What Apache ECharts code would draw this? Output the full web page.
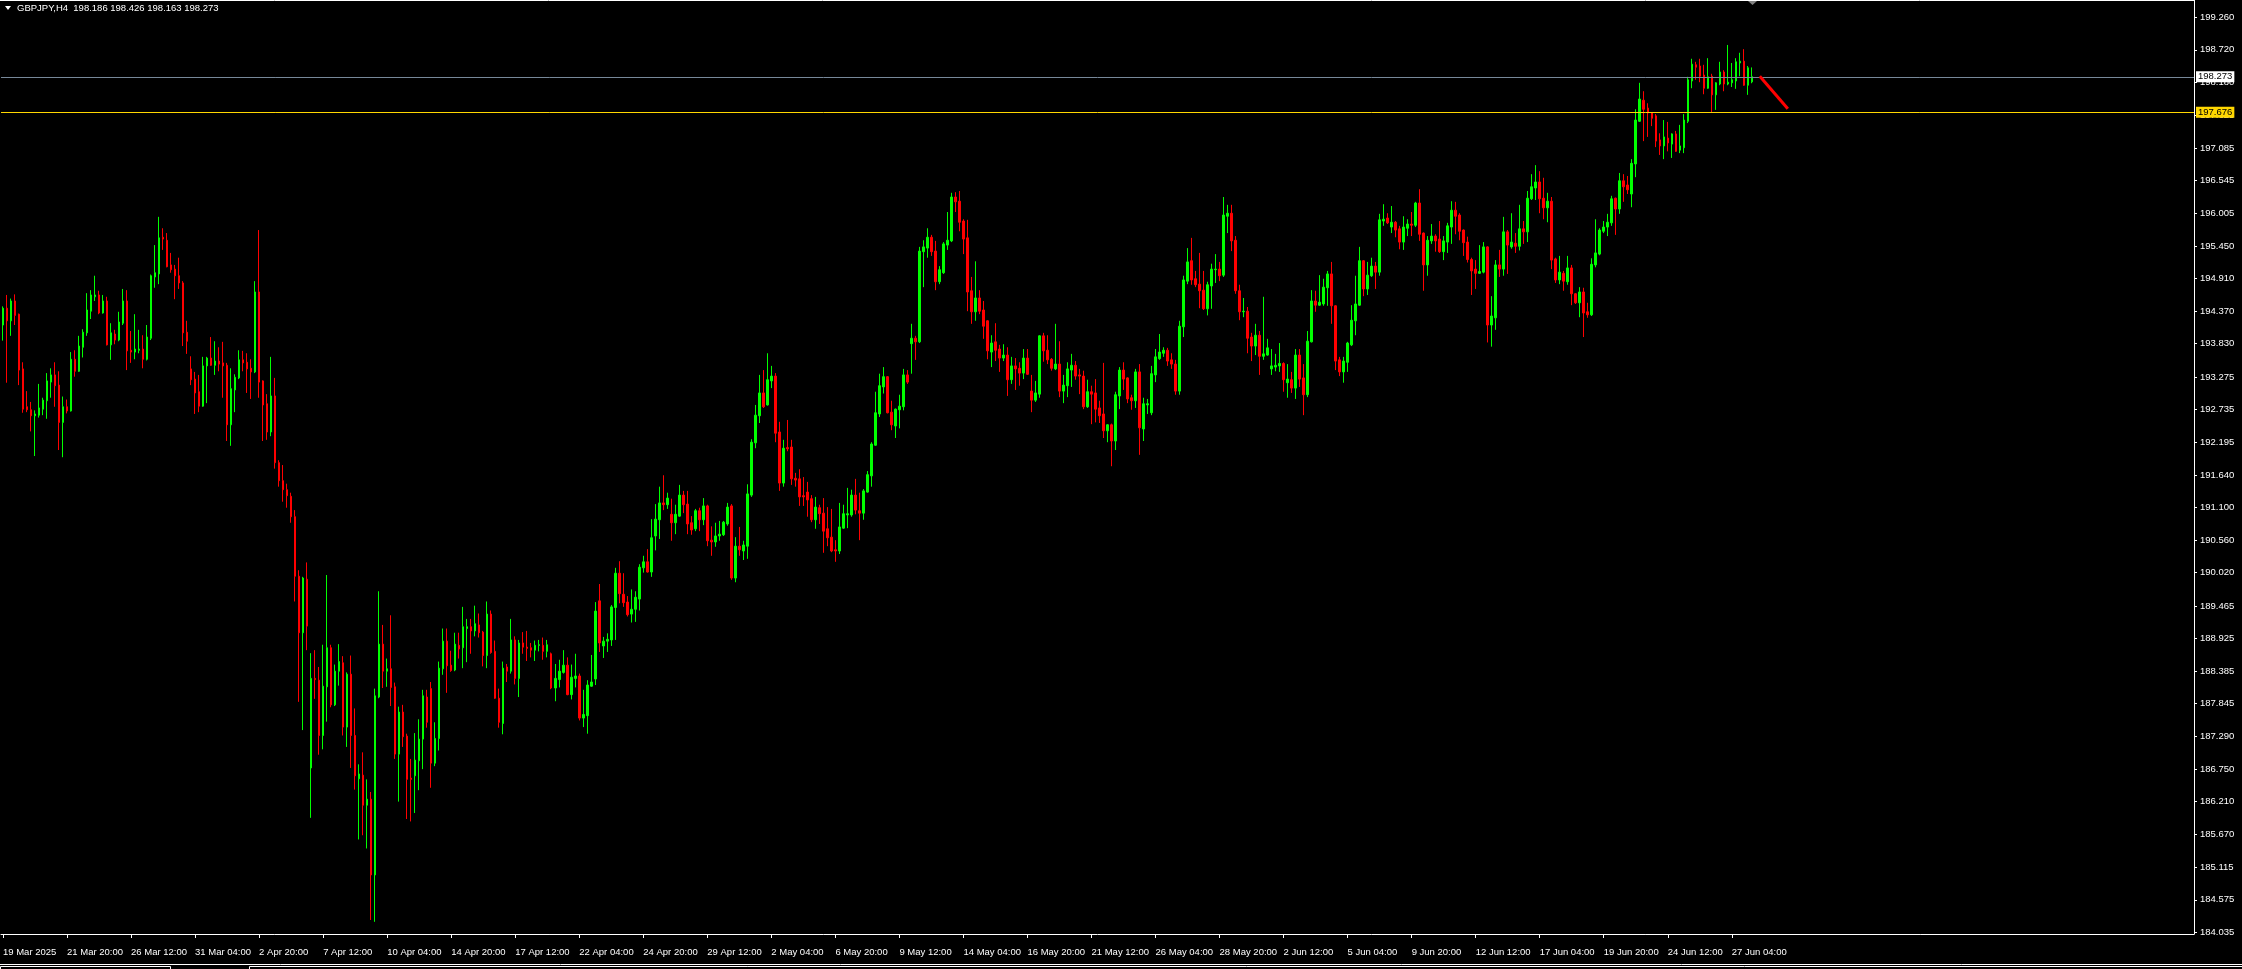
<!DOCTYPE html>
<html><head><meta charset="utf-8">
<script src="https://cdn.jsdelivr.net/npm/echarts@6/dist/echarts.min.js"></script>
<style>html,body{margin:0;padding:0;background:#000;overflow:hidden}#c{width:2242px;height:969px}</style>
</head><body><div id="c"></div>
<script>
const symbolTitle = 'GBPJPY,H4  198.186 198.426 198.163 198.273';
const xTickLabels = ['19 Mar 2025','21 Mar 20:00','26 Mar 12:00','31 Mar 04:00','2 Apr 20:00','7 Apr 12:00','10 Apr 04:00','14 Apr 20:00','17 Apr 12:00','22 Apr 04:00','24 Apr 20:00','29 Apr 12:00','2 May 04:00','6 May 20:00','9 May 12:00','14 May 04:00','16 May 20:00','21 May 12:00','26 May 04:00','28 May 20:00','2 Jun 12:00','5 Jun 04:00','9 Jun 20:00','12 Jun 12:00','17 Jun 04:00','19 Jun 20:00','24 Jun 12:00','27 Jun 04:00'];
const yTickLabels = ['184.035','184.575','185.115','185.670','186.210','186.750','187.290','187.845','188.385','188.925','189.465','190.020','190.560','191.100','191.640','192.195','192.735','193.275','193.830','194.370','194.910','195.450','196.005','196.545','197.085','197.625','198.180','198.720','199.260'];
const bidPrice = 198.273;
const levelPrice = 197.676;
const arrowLine = [[439, 198.28], [446, 197.74]];

const open = [
194.14,194.42,194.21,194.54,194.32,193.41,192.78,192.73,192.63,192.64,
192.74,192.88,193.19,193.31,193.14,192.52,192.78,192.71,193.57,193.37,
193.77,194.01,194.37,194.61,194.64,194.34,194.54,193.81,193.99,193.89,
194.17,194.54,193.72,193.69,193.72,193.74,193.57,193.92,194.94,194.99,
195.60,195.55,195.14,195.07,194.96,194.84,194.02,193.41,193.24,193.03,
192.79,193.46,193.59,193.47,193.54,193.51,193.47,192.48,193.06,193.26,
193.56,193.52,193.42,193.36,194.69,193.21,192.83,192.36,192.96,191.85,
191.55,191.40,191.29,190.95,189.96,189.02,189.91,186.77,188.26,188.23,
187.31,188.12,188.77,187.82,188.38,188.52,187.45,188.33,187.31,186.59,
186.65,186.15,186.25,184.99,187.95,188.83,188.38,188.42,188.12,187.00,
187.70,187.30,186.60,186.64,186.89,187.25,187.95,188.09,186.85,187.26,
188.42,188.88,188.48,188.40,188.81,188.77,189.09,189.12,189.05,189.15,
189.03,188.64,189.33,188.71,187.93,187.51,188.45,188.38,188.90,188.26,
188.85,188.78,188.77,188.73,188.81,188.81,188.71,188.67,188.10,188.24,
188.36,188.48,187.99,188.26,188.30,187.60,187.64,188.13,188.25,189.55,
188.80,188.88,188.90,189.44,190.01,189.66,189.53,189.33,189.41,189.58,
190.10,190.20,190.03,190.63,190.90,191.18,191.15,190.99,190.85,190.96,
191.31,191.16,190.85,190.75,191.05,190.90,191.13,190.56,190.53,190.63,
190.65,190.83,191.13,189.93,190.46,190.38,190.46,191.31,192.18,192.63,
193.01,192.81,193.21,193.29,192.36,191.51,192.10,192.11,191.59,191.58,
191.30,191.36,191.25,190.90,191.10,191.01,190.75,190.61,190.40,190.38,
190.76,190.98,190.98,191.31,191.05,191.01,191.36,191.63,192.14,192.66,
193.11,193.28,192.69,192.46,192.73,192.78,193.31,193.83,193.92,193.86,
195.36,195.42,195.60,195.37,194.86,195.01,195.47,195.54,196.27,196.20,
195.87,195.59,194.71,194.36,194.59,194.39,194.21,193.69,193.86,193.74,
193.59,193.64,193.23,193.46,193.42,193.34,193.59,193.04,192.89,192.99,
193.96,193.72,193.57,193.41,193.49,193.04,193.13,193.39,193.47,193.31,
193.29,192.78,193.03,193.01,192.76,192.66,192.38,192.48,192.21,192.96,
193.39,193.26,192.93,192.88,193.36,192.41,192.81,192.68,193.31,193.58,
193.67,193.72,193.56,193.49,193.04,194.11,194.87,195.21,194.91,194.82,
194.72,194.41,194.79,195.06,195.07,194.97,195.95,196.00,195.55,194.71,
194.36,194.37,193.94,193.79,193.97,193.62,193.64,193.41,193.44,193.46,
193.50,193.18,193.23,193.09,193.64,193.26,192.98,193.86,194.54,194.47,
194.49,194.76,194.99,194.46,193.56,193.36,193.52,193.81,194.21,194.47,
195.21,194.74,194.96,195.12,195.02,195.87,195.92,195.77,195.85,195.74,
195.52,195.75,195.82,195.80,196.17,195.67,195.14,195.54,195.62,195.57,
195.36,195.52,195.77,196.05,195.97,195.72,195.52,195.23,195.07,195.00,
195.02,195.44,194.14,194.26,195.14,195.07,195.69,195.44,195.50,195.45,
195.74,195.69,196.24,196.42,196.52,196.25,196.09,196.20,195.24,194.89,
195.00,194.86,195.09,194.66,194.51,194.69,194.36,194.31,195.14,195.32,
195.70,195.77,195.84,196.25,196.07,196.54,196.47,196.32,196.82,197.53,
197.88,197.75,197.67,197.62,197.22,197.12,197.25,197.15,197.32,197.05,
197.09,197.53,198.20,198.47,198.45,198.30,198.08,198.28,197.97,198.15,
198.35,198.15,198.17,198.20,198.50,198.53,198.13,198.186];

const high = [
194.45,194.64,194.58,194.65,194.33,193.52,193.04,192.86,192.72,193.16,
192.93,193.34,193.42,193.52,193.37,192.95,192.90,193.69,193.72,193.96,
194.07,194.67,194.72,194.96,194.71,194.64,194.61,194.17,194.06,194.36,
194.74,194.72,194.04,194.32,194.06,193.97,194.14,194.98,195.47,195.94,
195.75,195.67,195.34,195.14,195.26,194.87,194.21,193.62,193.36,193.31,
193.61,193.61,193.94,193.87,193.77,193.86,193.51,193.42,193.32,193.72,
193.71,193.67,193.57,194.87,195.72,193.22,192.99,193.61,193.26,191.89,
191.81,191.50,191.35,191.06,190.06,189.95,190.19,188.68,188.73,188.45,
188.82,189.98,188.82,188.49,188.83,188.63,188.36,188.64,187.76,186.83,
187.03,186.58,186.37,188.09,189.71,189.15,188.59,189.31,188.19,187.79,
187.82,187.34,186.92,187.35,187.58,188.07,188.07,188.20,187.53,188.54,
189.09,189.09,188.72,189.02,189.02,189.45,189.25,189.25,189.47,189.34,
189.05,189.54,189.39,188.89,188.09,188.54,188.50,189.25,188.96,188.90,
189.03,189.05,188.85,188.89,188.90,188.94,188.90,188.69,188.50,188.57,
188.73,188.61,188.49,188.67,188.34,188.07,188.23,188.65,189.53,189.83,
188.95,189.01,189.48,190.10,190.21,190.01,189.63,189.74,189.71,190.16,
190.30,190.41,190.91,191.16,191.45,191.64,191.35,191.25,191.15,191.48,
191.38,191.38,190.96,191.08,191.10,191.26,191.15,190.79,190.85,190.88,
190.88,191.18,191.16,190.61,190.78,190.55,191.49,192.24,192.81,193.31,
193.39,193.67,193.46,193.34,192.53,192.23,192.56,192.23,191.68,191.74,
191.61,191.53,191.31,191.28,191.15,191.26,191.11,191.08,190.56,191.18,
191.15,191.43,191.40,191.58,191.35,191.41,191.71,192.19,193.03,193.33,
193.44,193.29,192.88,192.75,192.98,193.41,193.39,194.16,193.96,195.44,
195.55,195.75,195.64,195.54,195.12,195.52,196.02,196.34,196.35,196.37,
195.90,195.89,194.94,195.20,194.72,194.54,194.22,193.97,194.17,193.81,
193.82,193.77,193.61,193.59,193.52,193.74,193.74,193.31,193.21,193.97,
194.01,193.97,193.59,194.16,193.87,193.31,193.52,193.66,193.54,193.41,
193.38,193.23,193.13,193.24,192.88,193.51,192.49,192.50,193.03,193.44,
193.52,193.27,192.98,193.41,193.49,192.93,192.91,193.46,193.74,193.99,
193.77,193.76,193.67,193.56,194.21,194.96,195.42,195.59,195.04,195.34,
195.04,194.86,195.16,195.32,195.19,196.27,196.14,196.14,195.62,194.81,
194.59,194.44,194.01,194.16,194.04,194.61,193.91,193.74,193.66,193.84,
193.52,193.49,193.36,193.74,193.74,193.49,194.04,194.72,194.71,194.97,
194.91,195.04,195.19,194.47,193.61,193.61,193.86,194.47,194.96,195.44,
195.22,195.19,195.26,195.19,195.99,196.15,196.00,196.12,195.87,195.79,
195.95,195.90,196.02,196.19,196.40,195.68,195.62,195.82,195.65,195.87,
195.62,195.84,196.20,196.19,196.00,195.73,195.61,195.26,195.22,195.47,
195.52,195.45,194.62,195.22,195.39,195.94,195.72,196.00,195.67,196.14,
195.87,196.37,196.65,196.80,196.70,196.59,196.34,196.27,195.26,195.29,
195.04,195.29,195.14,194.67,194.77,194.76,194.51,195.25,195.90,195.75,
195.87,195.99,196.29,196.26,196.67,196.65,196.62,196.90,197.73,198.17,
198.03,197.83,197.68,197.65,197.33,197.55,197.52,197.33,197.37,197.47,
197.65,198.27,198.57,198.52,198.57,198.47,198.58,198.32,198.18,198.52,
198.38,198.80,198.50,198.58,198.67,198.73,198.45,198.426];

const low = [
193.88,193.18,193.96,194.14,193.14,192.68,192.69,192.37,191.96,192.60,
192.64,192.58,192.93,192.78,192.06,191.94,192.67,192.70,193.28,193.36,
193.60,193.96,194.24,194.54,194.32,194.33,193.80,193.56,193.82,193.87,
194.14,193.39,193.51,193.57,193.67,193.42,193.55,193.89,194.76,194.82,
195.39,195.10,195.01,194.57,194.74,193.79,193.66,193.14,192.66,192.69,
192.78,192.84,193.46,193.31,193.37,192.93,192.21,192.13,192.69,193.24,
193.37,193.01,192.91,193.34,192.93,192.21,192.23,192.29,191.75,191.45,
191.20,191.10,190.85,189.54,187.87,187.40,188.73,185.94,187.92,186.99,
187.08,187.54,187.78,187.80,188.14,187.31,187.12,186.77,186.41,185.58,
185.65,185.43,184.24,184.21,187.93,188.10,188.12,187.80,186.92,186.21,
187.12,185.92,185.88,186.02,186.40,186.75,187.44,186.44,186.80,187.06,
188.32,188.02,188.37,188.38,188.59,188.43,188.53,188.67,188.96,188.94,
188.46,188.43,188.67,187.92,187.44,187.33,188.20,188.34,188.16,187.95,
188.67,188.55,188.61,188.55,188.71,188.57,188.61,188.08,187.88,188.11,
188.34,187.98,187.91,188.11,187.56,187.45,187.34,188.12,188.15,188.70,
188.60,188.70,188.80,188.90,189.51,189.45,189.29,189.19,189.20,189.39,
190.02,190.02,189.95,190.39,190.58,191.06,191.08,190.55,190.66,190.95,
191.01,190.66,190.65,190.71,190.71,190.81,190.46,190.30,190.45,190.55,
190.63,190.80,189.90,189.86,190.30,190.23,190.25,191.28,192.09,192.51,
192.76,192.80,193.09,192.19,191.38,191.45,192.04,191.48,191.45,191.13,
191.13,190.95,190.86,190.75,190.83,190.35,190.46,190.36,190.20,190.33,
190.75,190.76,190.95,190.99,190.56,190.90,191.35,191.45,192.13,192.61,
193.00,192.67,192.39,192.26,192.42,192.72,193.16,193.33,193.56,193.84,
194.77,195.26,195.29,194.72,194.82,194.99,195.39,195.52,196.02,195.70,
195.32,194.37,194.16,194.21,194.32,193.91,193.57,193.44,193.54,193.36,
193.54,192.96,193.16,193.06,193.13,193.24,193.31,192.69,192.86,192.93,
193.53,193.49,193.38,193.39,192.94,192.84,192.94,193.11,193.23,192.99,
192.74,192.76,192.49,192.52,192.51,192.26,192.19,191.79,192.06,192.74,
193.06,192.84,192.73,192.76,191.98,192.21,192.66,192.64,193.19,193.56,
193.61,193.46,193.41,192.98,192.98,193.94,194.82,194.81,194.77,194.42,
194.39,194.30,194.41,194.84,194.87,194.94,195.67,195.37,194.66,194.22,
194.27,193.67,193.54,193.64,193.31,193.56,193.63,193.31,193.37,193.36,
193.03,192.93,193.01,192.91,193.11,192.64,192.94,193.85,194.36,194.46,
194.46,194.46,194.16,193.39,193.29,193.18,193.36,193.79,193.97,194.46,
194.62,194.64,194.94,194.74,194.96,195.79,195.82,195.67,195.60,195.40,
195.39,195.62,195.62,195.77,195.54,194.71,194.96,195.49,195.36,195.34,
195.22,195.34,195.49,195.65,195.55,195.29,195.18,194.64,194.74,194.99,
195.00,193.85,193.78,194.06,194.94,194.96,194.99,195.41,195.34,195.38,
195.49,195.52,196.22,196.22,196.00,195.90,195.85,195.07,194.84,194.82,
194.71,194.81,194.47,194.49,194.27,193.94,194.26,194.29,195.10,195.30,
195.67,195.62,195.79,195.64,195.99,196.19,196.32,196.10,196.60,197.52,
197.20,197.27,197.45,197.10,196.97,196.90,197.03,196.92,197.02,197.00,
197.00,197.50,198.08,198.22,198.18,197.98,198.07,197.67,197.72,198.13,
198.03,198.13,198.10,198.07,198.28,198.12,197.97,198.163];

const close = [
194.42,194.21,194.54,194.30,193.39,192.74,192.73,192.63,192.66,192.76,
192.89,193.21,193.31,193.13,192.52,192.78,192.71,193.57,193.37,193.79,
194.02,194.39,194.64,194.64,194.34,194.54,193.81,194.01,193.89,194.19,
194.54,193.71,193.69,193.74,193.74,193.57,193.94,194.96,195.01,195.59,
195.57,195.11,195.06,194.96,194.84,194.01,193.87,193.23,193.01,192.79,
193.46,193.59,193.47,193.54,193.49,193.46,192.48,193.08,193.27,193.56,
193.51,193.41,193.36,194.69,193.19,192.81,192.36,192.96,191.85,191.55,
191.40,191.30,190.95,189.96,189.02,189.93,189.13,188.26,188.24,187.31,
188.13,188.77,187.82,188.38,188.54,187.45,188.33,187.31,186.64,186.67,
186.15,186.25,184.99,187.97,188.83,188.38,188.42,188.11,187.00,187.70,
187.29,186.58,186.58,186.90,187.25,187.97,187.53,186.85,187.26,188.43,
188.88,188.47,188.39,188.83,188.75,189.12,189.12,189.05,189.17,189.02,
188.64,189.33,188.69,187.93,187.53,188.43,188.38,188.90,188.26,188.85,
188.78,188.76,188.73,188.81,188.82,188.71,188.82,188.10,188.26,188.38,
188.48,187.99,188.28,188.30,187.60,187.66,188.15,188.20,189.38,188.85,
188.88,188.91,189.45,190.01,189.67,189.52,189.32,189.41,189.61,190.11,
190.20,190.03,190.60,190.91,191.18,191.15,191.26,190.85,190.99,191.31,
191.15,190.83,190.73,191.05,190.90,191.13,190.55,190.53,190.63,190.66,
190.86,191.11,189.93,190.46,190.40,190.48,191.33,192.19,192.64,193.01,
192.78,193.23,193.29,192.34,191.51,192.09,192.08,191.58,191.56,191.28,
191.28,191.23,190.90,191.11,191.00,190.71,190.60,190.38,190.38,190.78,
191.00,191.00,191.31,191.06,191.01,191.38,191.65,192.16,192.68,193.13,
193.28,192.68,192.48,192.74,192.79,193.31,193.19,193.92,193.86,195.37,
195.44,195.60,195.36,194.86,195.06,195.49,195.55,196.27,196.19,195.85,
195.57,194.69,194.36,194.59,194.37,194.12,193.71,193.84,193.72,193.59,
193.64,193.23,193.46,193.41,193.34,193.59,193.32,192.89,193.01,193.96,
193.71,193.56,193.42,193.49,193.04,193.14,193.41,193.47,193.29,193.29,
192.78,193.03,192.99,192.74,192.63,192.38,192.48,192.21,192.98,193.39,
193.24,192.91,192.88,193.36,192.43,192.83,192.83,193.33,193.61,193.69,
193.72,193.54,193.49,193.04,194.12,194.89,195.19,194.89,194.81,194.71,
194.41,194.81,195.07,195.07,194.96,195.97,196.00,195.54,194.71,194.36,
194.37,193.92,193.79,193.97,193.62,193.66,193.76,193.46,193.47,193.50,
193.23,193.24,193.09,193.64,193.24,192.98,193.87,194.54,194.47,194.52,
194.77,194.99,194.46,193.54,193.36,193.54,193.84,194.22,194.49,195.21,
194.74,194.97,195.12,195.02,195.89,195.90,195.84,195.85,195.72,195.52,
195.77,195.82,195.80,196.17,195.65,195.14,195.55,195.62,195.54,195.36,
195.54,195.79,196.05,195.95,195.70,195.51,195.23,195.04,195.00,195.03,
195.44,194.14,194.29,195.14,195.07,195.69,195.47,195.52,195.45,195.74,
195.69,196.25,196.44,196.52,196.24,196.09,196.20,195.22,194.89,195.02,
194.87,195.09,194.66,194.51,194.69,194.34,194.31,195.15,195.34,195.72,
195.77,195.85,196.24,196.07,196.54,196.44,196.39,196.83,197.55,197.90,
197.73,197.67,197.58,197.20,197.12,197.27,197.17,197.32,197.03,197.12,
197.55,198.22,198.48,198.43,198.28,198.08,198.27,197.97,198.17,198.35,
198.15,198.18,198.22,198.52,198.53,198.13,198.42,198.273];

const SLOTS = 548;
const LABEL_STEP = 16;
const FONT = '"Liberation Sans", Arial, sans-serif';

const categories = [];
for (let i = 0; i < SLOTS; i++) categories.push(String(i));
const candles = open.map((o, i) => [o, close[i], low[i], high[i]]);
const yTickValues = yTickLabels.map(Number);
const showX = (i) => i % LABEL_STEP === 0 && i / LABEL_STEP < xTickLabels.length;

const chart = echarts.init(document.getElementById('c'), null, {renderer: 'canvas'});
chart.setOption({
  backgroundColor: '#000000',
  animation: false,
  grid: {left: 0, right: 48, top: 0, bottom: 35, containLabel: false},
  xAxis: {
    type: 'category', data: categories, boundaryGap: true,
    axisLine: {show: true, lineStyle: {color: '#ffffff', width: 1}},
    axisTick: {show: true, alignWithLabel: true, length: 4, interval: showX, lineStyle: {color: '#ffffff'}},
    axisLabel: {show: true, interval: showX, align: 'left', margin: 13, color: '#ffffff', fontFamily: FONT, fontSize: 9.5,
      formatter: (v, i) => xTickLabels[i / LABEL_STEP] || ''},
    splitLine: {show: false}
  },
  yAxis: {
    type: 'value', position: 'right', min: 184.007, max: 199.548,
    axisLine: {show: true, lineStyle: {color: '#ffffff', width: 1}},
    axisTick: {show: true, length: 3, customValues: yTickValues, lineStyle: {color: '#ffffff'}},
    axisLabel: {show: true, customValues: yTickValues, margin: 6, color: '#ffffff', fontFamily: FONT, fontSize: 9.5,
      formatter: (v) => Number(v).toFixed(3)},
    splitLine: {show: false}
  },
  series: [
    {
      type: 'candlestick', data: candles, barWidth: 2,
      itemStyle: {color: '#00ff00', color0: '#ff0000', borderColor: '#00ff00', borderColor0: '#ff0000', borderColorDoji: '#00ff00', borderWidth: 1},
      markLine: {
        silent: true, symbol: ['none', 'none'], animation: false,
        data: [
          {yAxis: bidPrice, lineStyle: {color: '#778899', width: 1, type: 'solid'},
           label: {show: true, position: 'end', distance: 2, formatter: bidPrice.toFixed(3), color: '#000000', backgroundColor: '#ffffff', padding: [1, 2, 0, 2], fontFamily: FONT, fontSize: 9.5}},
          {yAxis: levelPrice, lineStyle: {color: '#ffd700', width: 1, type: 'solid'},
           label: {show: true, position: 'end', distance: 2, formatter: levelPrice.toFixed(3), color: '#000000', backgroundColor: '#ffd700', padding: [1, 2, 0, 2], fontFamily: FONT, fontSize: 9.5}}
        ]
      }
    },
    {
      type: 'line', data: arrowLine, symbol: 'none', silent: true, z: 5,
      lineStyle: {color: '#ff0000', width: 3}
    }
  ],
  graphic: [
    {type: 'polygon', shape: {points: [[5, 6], [11, 6], [8, 10]]}, style: {fill: '#ffffff'}},
    {type: 'text', left: 17, top: 3, style: {text: symbolTitle, fill: '#ffffff', font: '9.5px "Liberation Sans", Arial, sans-serif'}},
    {type: 'line', shape: {x1: 0, y1: 0.5, x2: 2194, y2: 0.5}, style: {stroke: '#ffffff', lineWidth: 1}},
    {type: 'polygon', shape: {points: [[1748, 1], [1757, 1], [1752.5, 5]]}, style: {fill: '#808080'}},
    {type: 'line', shape: {x1: 0, y1: 964.5, x2: 2242, y2: 964.5}, style: {stroke: '#ffffff', lineWidth: 1}},
    {type: 'rect', shape: {x: 0.5, y: 966.5, width: 170, height: 6}, style: {stroke: '#ffffff', fill: 'none', lineWidth: 1}},
    {type: 'rect', shape: {x: 249.5, y: 966.5, width: 2100, height: 6}, style: {stroke: '#ffffff', fill: 'none', lineWidth: 1}}
  ]
});
</script>
</body></html>
